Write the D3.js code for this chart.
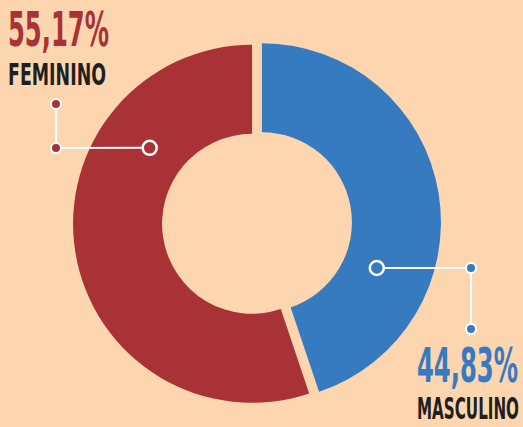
<!DOCTYPE html>
<html>
<head>
<meta charset="utf-8">
<script src="https://cdn.jsdelivr.net/npm/d3@7"></script>
<style>
  html, body { margin: 0; padding: 0; background: #fdd5ae; }
  svg { display: block; }
  .pct { font-family: "Liberation Sans Narrow", "DejaVu Sans Condensed", "Roboto", sans-serif; font-weight: bold; }
  .lbl { font-family: "Liberation Sans Narrow", "DejaVu Sans Condensed", "Roboto", sans-serif; font-weight: bold; fill: #1f1f1f; }
</style>
</head>
<body>
<svg id="chart" width="523" height="427"></svg>
<script>
var categories = ["MASCULINO", "FEMININO"];
var values = [44.83, 55.17];
var pctLabels = ["44,83%", "55,17%"];
var colors = ["#367ac0", "#a83235"];

var svg = d3.select("#chart");
var cx = 257, cy = 223;
var rOuter = 179, rInner = 90;
var explode = 5;

var pie = d3.pie().sort(null).value(d => d);
var arcs = pie(values);
var arc = d3.arc().innerRadius(rInner).outerRadius(rOuter);

var g = svg.append("g").attr("transform", `translate(${cx}, ${cy})`);

g.selectAll("path.slice")
  .data(arcs)
  .enter().append("path")
    .attr("class", "slice")
    .attr("fill", (d, i) => colors[i])
    .attr("transform", function(d) {
      var a = (d.startAngle + d.endAngle) / 2;
      return `translate(${Math.sin(a) * explode}, ${-Math.cos(a) * explode})`;
    })
    .attr("d", arc);

// annotation connectors: [marker on ring, elbow, end]
var polar = (deg, r) => [Math.sin(deg * Math.PI / 180) * r, -Math.cos(deg * Math.PI / 180) * r];
var connectors = [
  { ring: polar(110.6, 128), elbow: [214, 45], end: [214, 106] },
  { ring: polar(305, 131), elbow: [-201, -75], end: [-201, -119] }
];

connectors.forEach(function(c, i) {
  var pts = [c.ring, c.elbow, c.end];
  g.append("path")
    .attr("d", d3.line()(pts))
    .attr("fill", "none")
    .attr("stroke", "#fff")
    .attr("stroke-width", 2);
  g.append("circle")
    .attr("cx", c.ring[0]).attr("cy", c.ring[1]).attr("r", 7)
    .attr("fill", colors[i]).attr("stroke", "#fff").attr("stroke-width", 2.5);
  [c.elbow, c.end].forEach(function(p) {
    g.append("circle")
      .attr("cx", p[0]).attr("cy", p[1]).attr("r", 5)
      .attr("fill", colors[i]).attr("stroke", "#fff").attr("stroke-width", 2);
  });
});

// text blocks
var textPos = [
  { x: 417, pctY: 382, lblY: 419, pctW: 101, lblW: 102 },
  { x: 8, pctY: 46, lblY: 85, pctW: 101, lblW: 98 }
];

textPos.forEach(function(t, i) {
  svg.append("text")
    .attr("class", "pct")
    .attr("x", t.x).attr("y", t.pctY)
    .attr("fill", colors[i])
    .attr("font-size", 48)
    .attr("textLength", t.pctW)
    .attr("lengthAdjust", "spacingAndGlyphs")
    .text(pctLabels[i]);
  svg.append("text")
    .attr("class", "lbl")
    .attr("x", t.x).attr("y", t.lblY)
    .attr("font-size", 30)
    .attr("textLength", t.lblW)
    .attr("lengthAdjust", "spacingAndGlyphs")
    .text(categories[i]);
});
</script>
</body>
</html>
